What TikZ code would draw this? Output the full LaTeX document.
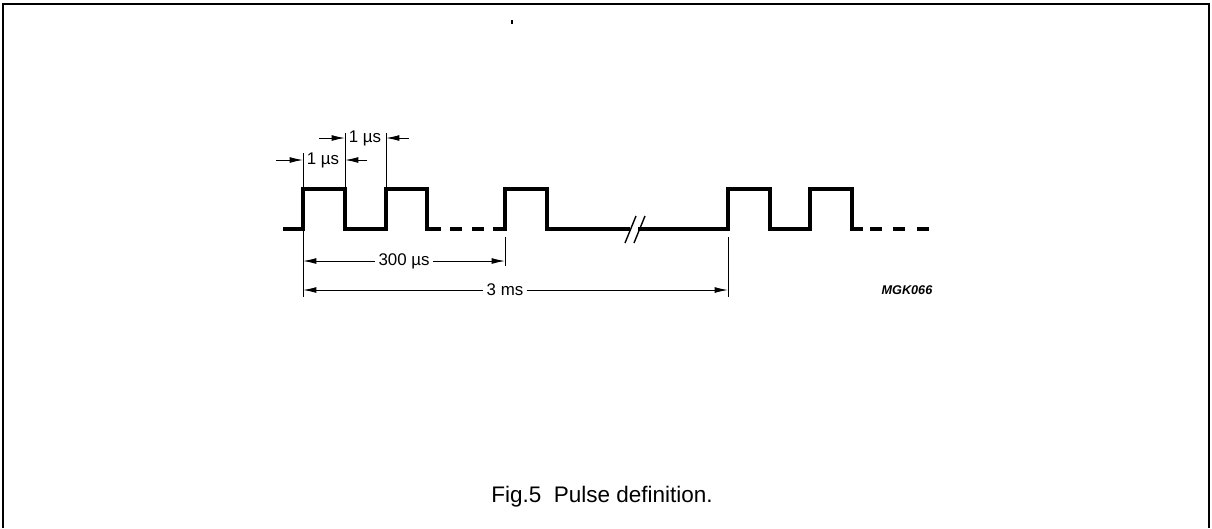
\documentclass[tikz,border=0pt]{standalone}
\usepackage{fontspec}
\setmainfont{Liberation Sans}
\usetikzlibrary{arrows.meta}
\begin{document}
\begin{tikzpicture}[x=0.025cm,y=-0.025cm,w/.style={line width=2.2pt},d/.style={line width=0.7pt},a/.style={d,-{Latex[length=9.5pt,width=4.2pt]}},t/.style={font=\fontsize{12}{14}\selectfont,inner sep=2.5pt}]
\useasboundingbox (0,0) rectangle (1212,528);
\draw[line width=1.5pt](3,528)--(3,4)--(1209,4)--(1209,528);
\draw[line width=1pt](512,20)--(512,24);
\coordinate(r1) at (303,229);\coordinate(f1) at (345,229);\coordinate(r2) at (386,229);\coordinate(r3) at (505,229);\coordinate(r4) at (728,229);
% pulse train
\draw[w](283,229)--(r1)--(303,189)--(345,189)--(f1)--(r2)--(386,189)--(427,189)--(427,229)--(441,229) (450,229)--(462,229) (472,229)--(484,229);
\draw[w](493,229)--(r3)--(505,189)--(547,189)--(547,229)--(630,229) (638,229)--(r4)--(728,189)--(770,189)--(770,229)--(810,229)--(810,189)--(852,189)--(852,229)--(863,229) (870,229)--(882,229) (893,229)--(905,229) (917,229)--(929,229);
\draw[line width=1pt](625,243)--(636,216) (634,243)--(645,216);
% extension lines
\draw[d](303,153)--(303,297) (345,133)--(345,189) (386,133)--(386,189) (505,237)--(505,266) (728,237)--(728,297);
% dimensions
\node[t,anchor=west](us1) at (303,160){1 µs};\node[t,anchor=west](us2) at (345,138){1 µs};
\coordinate(l1) at (276,160);\coordinate(m1) at (367,160);\coordinate(l2) at (319,138);\coordinate(m2) at (409,138);
\draw[a](l1)--(r1|-us1);\draw[a](m1)--(f1|-us1);\draw[a](l2)--(f1|-us2);\draw[a](m2)--(r2|-us2);
\node[t](p300) at (404,261){300 µs};\node[t](p3) at (505,290){3 ms};
\draw[a](p300.west)--(r1|-p300);\draw[a](p300.east)--(r3|-p300);\draw[a](p3.west)--(r1|-p3);\draw[a](p3.east)--(r4|-p3);
\node[font=\fontsize{9}{10}\selectfont\bfseries\itshape](code) at (907,290){MGK066};
\node[font=\fontsize{16}{19}\selectfont](cap) at (602,497){Fig.5\ \ Pulse definition.};
\end{tikzpicture}
\end{document}
